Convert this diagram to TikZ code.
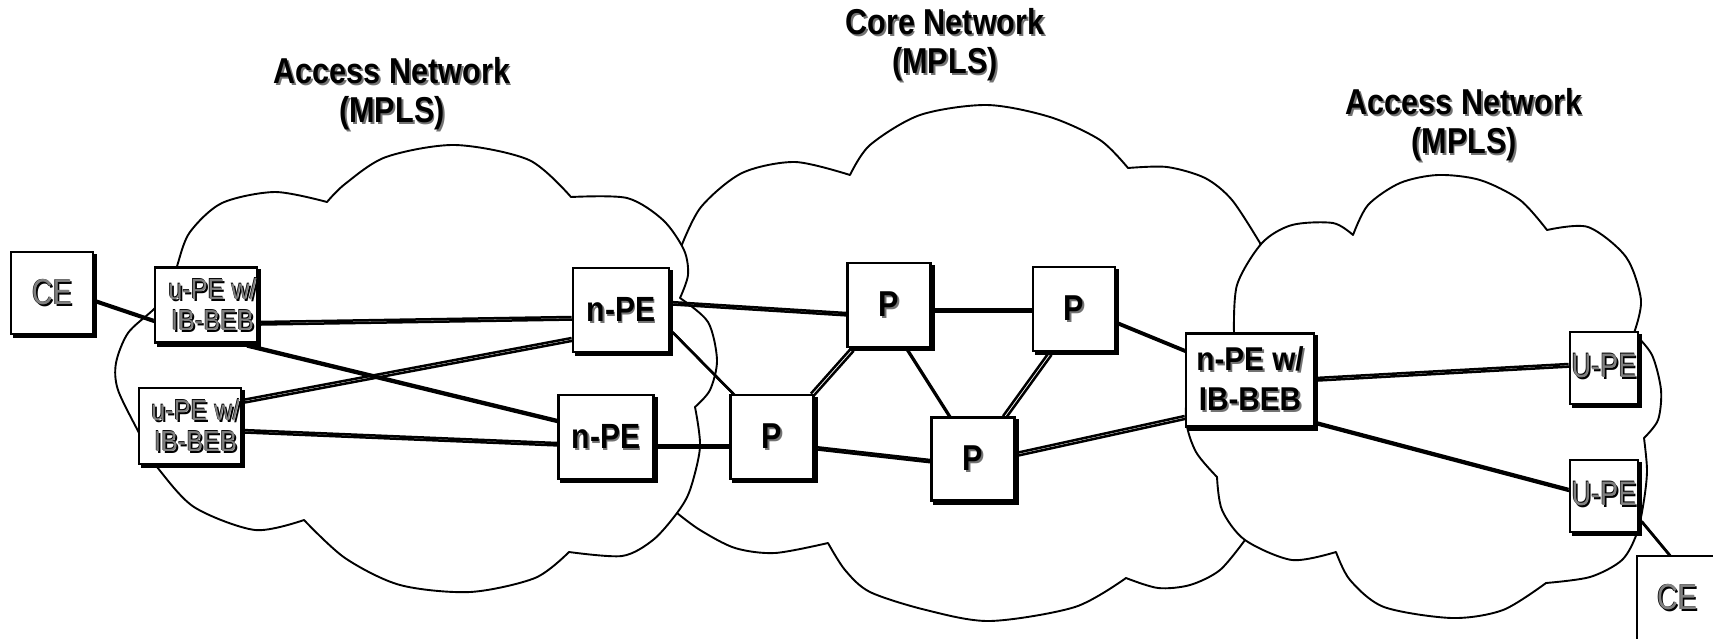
\documentclass[tikz,border=0pt]{standalone}
\usepackage{fontspec}
\setmainfont{Liberation Sans}
\usetikzlibrary{calc}

\definecolor{shadegray}{gray}{0.45}
\definecolor{labelgray}{gray}{0.5}

% text with an offset shadow copy behind it; optional argument = horizontal squeeze
\newcommand\darklbl[2][1]{\scalebox{#1}[1]{\makebox[0pt][l]{\hspace*{2pt}\raisebox{-2pt}{\textcolor{shadegray}{#2}}}#2}}
\newcommand\lightlbl[2][1]{\scalebox{#1}[1]{%
  \makebox[0pt][l]{\hspace*{2pt}\raisebox{-2pt}{#2}}%
  \makebox[0pt][l]{\hspace*{-0.7pt}\raisebox{0.7pt}{#2}}%
  \textcolor{labelgray}{#2}}}
\newcommand\fs[2]{\fontsize{#1}{#2}\selectfont}

% a link is drawn twice: an offset shadow stroke and the stroke itself
\newcommand\lnk[2]{%
  \draw[linkshade] #1 -- #2;
  \draw[linkline] #1 -- #2;}

\pgfdeclarelayer{cloudlayer}
\pgfdeclarelayer{linklayer}
\pgfsetlayers{cloudlayer,linklayer,main}

\tikzset{
  box/.style={draw, line width=2.8pt, fill=white, inner sep=0pt, align=center,
    preaction={draw=black, fill=black, line width=2.8pt, transform canvas={xshift=3pt, yshift=-3pt}}},
  linkline/.style={line width=2.5pt},
  linkshade/.style={line width=2.5pt, transform canvas={xshift=2.5pt, yshift=-2.5pt}},
  cloudedge/.style={draw, line width=1.9pt, fill=white, line join=round},
  title/.style={align=center, inner sep=0pt, font=\bfseries\fs{36}{39}},
}

\begin{document}
\begin{tikzpicture}[x=1pt, y=-1pt]
\clip (0,0) rectangle (1713,638);

% ---------- devices ----------
\node[box, minimum width=82pt, minimum height=82pt, font=\fs{36}{38}] (ce1) at (52,293) {\lightlbl[0.8]{CE}};
\node[box, minimum width=102pt, minimum height=75pt, font=\fs{29}{31}] (upe1) at (206,305)
  {\hspace*{13pt}\lightlbl[0.87]{u-PE w/}\\\hspace*{13pt}\lightlbl[0.87]{IB-BEB}};
\node[box, minimum width=102pt, minimum height=76pt, font=\fs{29}{31}] (upe2) at (190,426)
  {\hspace*{11pt}\lightlbl[0.87]{u-PE w/}\\\hspace*{11pt}\lightlbl[0.87]{IB-BEB}};
\node[box, minimum width=96pt, minimum height=84pt, font=\bfseries\fs{35}{38}] (npe1) at (621,310) {\darklbl[0.86]{n-PE}};
\node[box, minimum width=95pt, minimum height=84pt, font=\bfseries\fs{35}{38}] (npe2) at (606,437) {\darklbl[0.86]{n-PE}};
\node[box, minimum width=83pt, minimum height=84pt, font=\bfseries\fs{36}{38}] (pl) at (772,437) {\darklbl[0.85]{P}};
\node[box, minimum width=83pt, minimum height=84pt, font=\bfseries\fs{36}{38}] (pt) at (889,305) {\darklbl[0.85]{P}};
\node[box, minimum width=82pt, minimum height=84pt, font=\bfseries\fs{36}{38}] (pr) at (1074,309) {\darklbl[0.85]{P}};
\node[box, minimum width=83pt, minimum height=83pt, font=\bfseries\fs{36}{38}] (pb) at (973,459) {\darklbl[0.85]{P}};
\node[box, minimum width=128pt, minimum height=93pt, font=\bfseries\fs{33}{40}] (npeb) at (1250,380)
  {\darklbl[0.9]{n-PE w/}\\\darklbl[0.9]{IB-BEB}};
\node[box, minimum width=68pt, minimum height=72pt, font=\fs{34}{36}] (upea) at (1604,368) {\raisebox{6pt}{\lightlbl[0.8]{U-PE}}};
\node[box, minimum width=68pt, minimum height=72pt, font=\fs{34}{36}] (upeb) at (1604,496) {\raisebox{6pt}{\lightlbl[0.8]{U-PE}}};
\node[box, minimum width=100pt, minimum height=84pt, font=\fs{36}{38}] (ce2) at (1687,598) {\hspace*{-20pt}\raisebox{-3pt}{\lightlbl[0.8]{CE}}};

% ---------- cloud titles ----------
\node[title] (tleft) at (392,95) {\darklbl[0.85]{Access Network}\\\darklbl[0.85]{(MPLS)}};
\node[title] (tcore) at (945,46) {\darklbl[0.85]{Core Network}\\\darklbl[0.85]{(MPLS)}};
\node[title] (tright) at (1464,126) {\darklbl[0.85]{Access Network}\\\darklbl[0.85]{(MPLS)}};

% ---------- links ----------
\begin{pgfonlayer}{linklayer}
\lnk{($(ce1.east)+(0,7)$)}{($(upe1.west)+(0,15)$)}
\lnk{($(upe1.east)+(0,17)$)}{($(npe1.west)+(0,7)$)}
\lnk{($(upe1.south east)+(-14,0)$)}{($(npe2.west)+(0,-17)$)}
\lnk{($(upe2.east)+(0,-26)$)}{($(npe1.west)+(0,28)$)}
\lnk{($(upe2.east)+(0,4)$)}{($(npe2.west)+(0,6)$)}
\lnk{($(npe1.east)+(0,-8)$)}{($(pt.west)+(0,8)$)}
\lnk{($(npe1.east)+(0,20)$)}{($(pl.north west)+(4,0)$)}
\lnk{($(npe2.east)+(0,8)$)}{($(pl.west)+(0,8)$)}
\lnk{($(pl.north east)+(-4,0)$)}{($(pt.south west)+(5,0)$)}
\lnk{($(pt.east)+(0,4)$)}{($(pr.west)+(0,0)$)}
\lnk{($(pt.south)+(17,0)$)}{($(pb.north)+(-24,0)$)}
\lnk{($(pr.south)+(-25,0)$)}{($(pb.north)+(30,0)$)}
\lnk{($(pl.east)+(0,10)$)}{($(pb.west)+(0,1)$)}
\lnk{($(pr.east)+(0,13)$)}{($(npeb.west)+(0,-30)$)}
\lnk{($(pb.east)+(0,-6)$)}{($(npeb.west)+(0,36)$)}
\lnk{($(npeb.east)+(0,-2)$)}{($(upea.west)+(0,-4)$)}
\lnk{($(npeb.east)+(0,42)$)}{($(upeb.west)+(0,-7)$)}
\lnk{($(upeb.east)+(0,23)$)}{($(ce2.north)+(-18,0)$)}
\end{pgfonlayer}

% ---------- clouds ----------
\begin{pgfonlayer}{cloudlayer}
% core network
\path[cloudedge]
  plot[smooth] coordinates {(681,247) (701,207) (742,173) (795,162) (850,175)}
  -- plot[smooth] coordinates {(850,175) (870,145) (920,115) (987,105) (1050,117) (1100,140) (1128,168)}
  -- plot[smooth] coordinates {(1128,168) (1167,167) (1205,178) (1232,200) (1260,243)}
  -- plot[smooth] coordinates {(1260,243) (1270,300) (1272,400) (1262,490) (1245,540)}
  -- plot[smooth] coordinates {(1245,540) (1220,570) (1190,585) (1158,588) (1126,578)}
  -- plot[smooth] coordinates {(1126,578) (1075,607) (990,621) (926,610) (870,592) (845,570) (828,543)}
  -- plot[smooth] coordinates {(828,543) (775,553) (735,548) (700,530) (677,513)}
  -- plot[smooth] coordinates {(677,513) (664,460) (661,380) (668,300) (681,247)}
  -- cycle;
% left access network
\path[cloudedge]
  plot[smooth] coordinates {(172,290) (178,263) (190,232) (222,203) (275,192) (327,202)}
  -- plot[smooth] coordinates {(327,202) (345,184) (386,157) (455,145) (529,160) (571,197)}
  -- plot[smooth] coordinates {(571,197) (627,198) (663,220) (684,250) (688,275) (680,298)}
  -- plot[smooth] coordinates {(680,298) (708,322) (717,360) (710,390) (695,407)}
  -- plot[smooth] coordinates {(695,407) (700,447) (690,490) (677,513) (653,540) (622,556) (569,552)}
  -- plot[smooth] coordinates {(569,552) (535,578) (470,592) (400,585) (345,558) (304,520)}
  -- plot[smooth] coordinates {(304,520) (255,530) (194,507) (157,467) (150,455)}
  -- plot[smooth] coordinates {(150,455) (139,433) (118,390) (116,363) (128,333) (153,310) (172,290)}
  -- cycle;
% right access network
\path[cloudedge]
  plot[smooth] coordinates {(1234,335) (1237,285) (1262,243) (1292,225) (1333,223) (1353,235)}
  -- plot[smooth] coordinates {(1353,235) (1368,205) (1400,183) (1438,175) (1480,180) (1520,200) (1547,230)}
  -- plot[smooth] coordinates {(1547,230) (1588,227) (1626,257) (1641,300) (1634,333)}
  -- plot[smooth] coordinates {(1634,333) (1652,355) (1661,390) (1658,420) (1644,438)}
  -- plot[smooth] coordinates {(1644,438) (1647,470) (1644,500) (1637,533) (1622,560) (1590,577) (1546,583)}
  -- plot[smooth] coordinates {(1546,583) (1503,610) (1452,618) (1384,607) (1350,580) (1336,552)}
  -- plot[smooth] coordinates {(1336,552) (1292,560) (1245,540) (1222,510) (1217,477)}
  -- plot[smooth] coordinates {(1217,477) (1196,452) (1186,420) (1190,380) (1210,350) (1234,335)}
  -- cycle;
\end{pgfonlayer}
\end{tikzpicture}
\end{document}
